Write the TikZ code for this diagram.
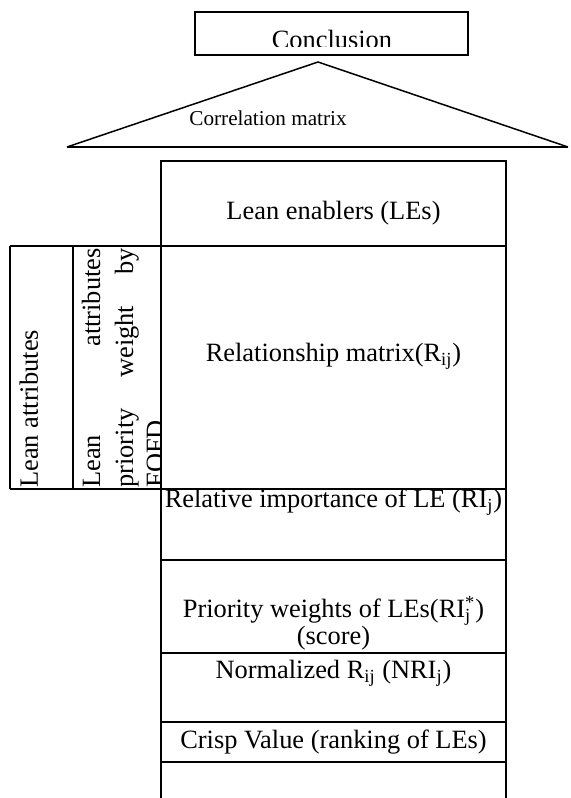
\documentclass[tikz,border=0pt]{standalone}
\usepackage{fontspec}
\setmainfont{Liberation Serif}
\usetikzlibrary{calc}
\begin{document}
\begin{tikzpicture}[x=0.5pt,y=-0.5pt,
  frame/.style={line width=1.25pt},
  txt/.style={inner sep=0pt, font=\fontsize{13.2}{16}\selectfont},
  vtxt/.style={txt, rotate=90},
]
\useasboundingbox (0,0) rectangle (570,798);
% conclusion box
\draw[frame] (195,12) rectangle (468,55);
\begin{scope}
  \clip (195,12) rectangle (468,46.5);
  \node[txt, anchor=base] (concl) at (332,48) {Conclusion};
\end{scope}
% triangle
\coordinate (tl) at (67,147);
\coordinate (tr) at (568,147);
\coordinate (ta) at (318,62);
\draw[line width=0.75pt] (tl) -- (ta) -- (tr);
\draw[line width=1.2pt] (tl) -- (tr);
\node[inner sep=0pt, font=\fontsize{10.6}{12}\selectfont] (corr) at (268,118) {Correlation matrix};
% main column
\draw[frame] (161,798) -- (161,161) -- (506,161) -- (506,798);
\draw[frame] (10,246) -- (506,246);
\draw[frame] (10,489) -- (506,489);
\draw[frame] (10,246) -- (10,489);
\draw[frame] (73,246) -- (73,489);
\foreach \yy in {560,653,722,762} \draw[frame] (161,\yy) -- (506,\yy);
% main texts
\node[txt] (le) at (333.5,213) {Lean enablers (LEs)};
\node[txt] (rm) at (333.5,356) {Relationship matrix(R\textsubscript{ij})};
\node[txt] (ri) at (333.5,502) {Relative importance of LE (RI\textsubscript{j})};
\node[txt] (pw1) at (333.5,611) {Priority weights of LEs(RI\rlap{\textsubscript{j}}\textsuperscript{*})};
\node[txt] (pw2) at (333.5,638) {(score)};
\node[txt] (nr) at (333.5,673) {Normalized R\textsubscript{ij} (NRI\textsubscript{j})};
\node[txt] (cv) at (333.5,742) {Crisp Value (ranking of LEs)};
% left texts
\node[vtxt, anchor=base west] (la) at (38,488) {Lean attributes};
\begin{scope}
  \clip (73,246) rectangle (161,489);
  \node[vtxt, anchor=base west] (l1a) at (100,488) {Lean};
  \node[vtxt, anchor=base east] (l1b) at (100,248) {attributes};
  \node[vtxt, anchor=base west] (l2a) at (133,488) {priority};
  \node[vtxt, anchor=base east] (l2c) at (133,248) {by};
  \node[vtxt, anchor=base] (l2b) at ($(l2a.base east)!0.5!(l2c.base west)$) {weight};
  \node[vtxt, anchor=base west] (l3) at (164,488) {FOFD};
\end{scope}
\end{tikzpicture}
\end{document}
